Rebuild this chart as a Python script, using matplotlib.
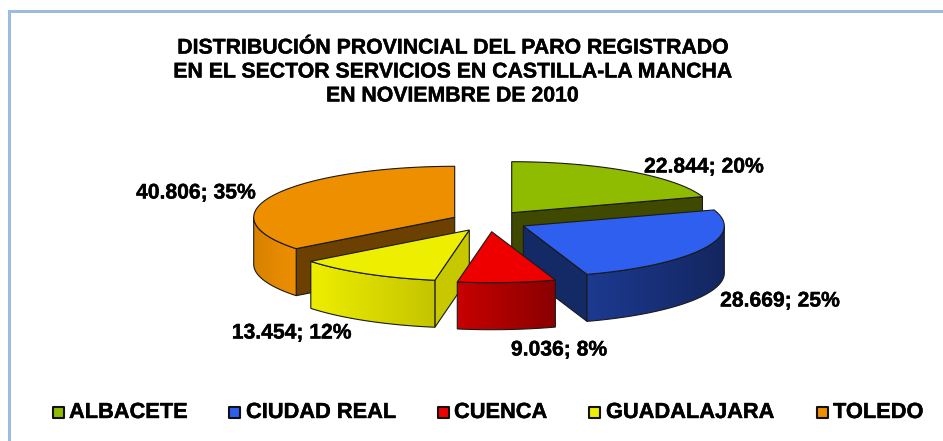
import numpy as np
import matplotlib
matplotlib.use("Agg")
import matplotlib.pyplot as plt
import matplotlib.patheffects as pe
from matplotlib.colors import LinearSegmentedColormap
from matplotlib.patches import Polygon, Rectangle

categories = ["ALBACETE", "CIUDAD REAL", "CUENCA", "GUADALAJARA", "TOLEDO"]
values = [22844, 28669, 9036, 13454, 40806]
value_labels = ["22.844; 20%", "28.669; 25%", "9.036; 8%", "13.454; 12%", "40.806; 35%"]
top_colors = ["#8fbc00", "#2f5fef", "#ee0000", "#eeee00", "#ee8f00"]
face_colors = ["#3f4a00", "#142a66", "#8a0000", "#c8c800", "#6b4000"]
side_left = ["#6f9200", "#1c3a90", "#c80000", "#eeee00", "#d88200"]
side_right = ["#5a7600", "#142660", "#8a0000", "#c4c400", "#ee8f00"]

# layout, in pixels
apex = [(511.7, 212.7), (523.3, 226), (491.7, 231.7), (469.3, 230), (454.7, 217.3)]
label_pos = [(704, 167), (780, 301), (559, 350), (292, 333), (196, 193)]
legend_sq = [52, 228, 437, 588, 816]
legend_txt = [69, 246, 454, 606, 833]
RX, RY, DEPTH = 201.0, 51.0, 47.0

plt.rcParams["font.family"] = ["Liberation Sans", "DejaVu Sans"]
fig = plt.figure(figsize=(9.43, 4.41), dpi=100)
ax = fig.add_axes([0, 0, 1, 1])
ax.set_xlim(0, 943)
ax.set_ylim(441, 0)
ax.axis("off")

# frame
ax.plot([8.5, 8.5, 943], [441, 11, 11], color="#9dbbdf", lw=2.2, zorder=0, solid_joinstyle="miter")

total = sum(values)
edges = np.concatenate([[0], np.cumsum(values)]) / total * 360.0
LINE = "#1a1a1a"
heavy = [pe.withStroke(linewidth=0.3, foreground="black")]


def rim(c, a):
    a = np.radians(a)
    return c[0] + RX * np.sin(a), c[1] - RY * np.cos(a)


def draw_slice(i, z):
    c = apex[i]
    a0, a1 = edges[i], edges[i + 1]
    ang = np.linspace(a0, a1, 90)
    xs, ys = rim(c, ang)
    # visible radial faces
    for a in (a0, a1):
        vis = (i == 0 and a == a1) or (i == 1 and a == a1) or (i == 3 and a == a0) or (i == 4 and a == a0)
        if vis:
            px, py = rim(c, a)
            ax.add_patch(Polygon([c, (px, py), (px, py + DEPTH), (c[0], c[1] + DEPTH)], closed=True,
                                 fc=face_colors[i], ec=LINE, lw=0.8, zorder=z))
    # outer wall, only the front half
    lo, hi = max(a0, 90), min(a1, 270)
    if hi > lo:
        wa = np.linspace(lo, hi, 80)
        wx, wy = rim(c, wa)
        outline = list(zip(wx, wy)) + list(zip(wx[::-1], wy[::-1] + DEPTH))
        cmap = LinearSegmentedColormap.from_list("w", [side_left[i], side_right[i]])
        im = ax.imshow(np.linspace(0, 1, 256).reshape(1, -1), cmap=cmap, aspect="auto",
                       extent=(wx.min(), wx.max(), wy.max() + DEPTH, wy.min()), zorder=z,
                       interpolation="bilinear")
        clip = Polygon(outline, closed=True, transform=ax.transData)
        im.set_clip_path(clip)
        ax.add_patch(Polygon(outline, closed=True, fc="none", ec=LINE, lw=0.8, zorder=z))
    # top
    ax.add_patch(Polygon([c] + list(zip(xs, ys)), closed=True, fc=top_colors[i], ec=LINE, lw=0.8, zorder=z))


for z, i in enumerate([0, 4, 1, 3, 2], start=2):
    draw_slice(i, z)
ax.set_xlim(0, 943)
ax.set_ylim(441, 0)

for (x, y), t in zip(label_pos, value_labels):
    ax.text(x, y, t, ha="center", va="center", fontsize=15.2, fontweight="bold", color="black",
            zorder=20, path_effects=heavy)

ax.text(452, 72, "DISTRIBUCIÓN PROVINCIAL DEL PARO REGISTRADO\nEN EL SECTOR SERVICIOS EN CASTILLA-LA MANCHA\nEN NOVIEMBRE DE 2010",
        ha="center", va="center", fontsize=15.3, fontweight="bold", linespacing=1.33, color="black",
        zorder=20, path_effects=heavy)

for sx, tx, name, col in zip(legend_sq, legend_txt, categories, top_colors):
    ax.add_patch(Rectangle((sx + 1, 407), 11, 11, fc=col, ec="#111111", lw=1.5, zorder=20,
                           joinstyle="round"))
    ax.text(tx, 412.5, name, ha="left", va="center", fontsize=15.7, fontweight="bold", zorder=20,
            path_effects=heavy)

fig.savefig("out.png", dpi=100, facecolor="white")
